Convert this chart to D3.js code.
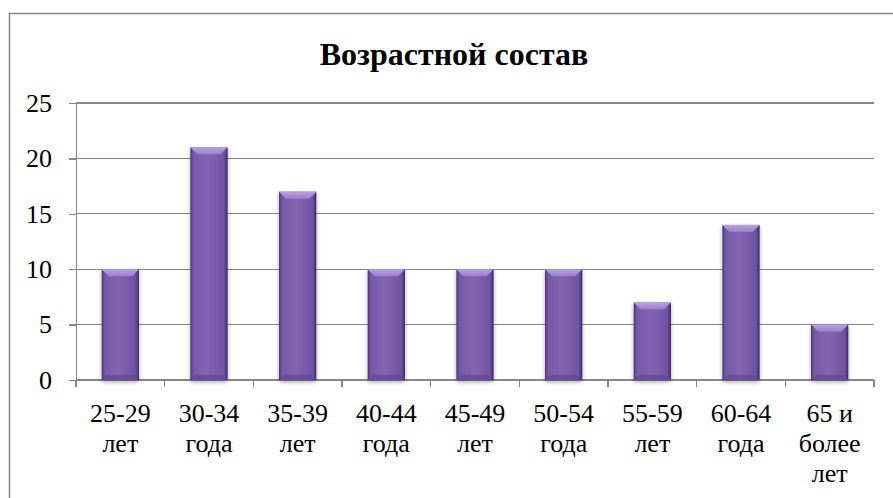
<!DOCTYPE html>
<head>
  <meta charset="utf-8">
  <script src="https://d3js.org/d3.v7.min.js"></script>
  <style>
    body { margin: 0; background: #fff; }
    .axis path, .axis line { stroke: #868686; stroke-width: 1.3; shape-rendering: crispEdges; }
    .grid line { stroke: #868686; stroke-width: 1.3; shape-rendering: crispEdges; }
  </style>
</head>
<body>
<script>

var categories = ["25-29 лет", "30-34 года", "35-39 лет", "40-44 года", "45-49 лет",
                  "50-54 года", "55-59 лет", "60-64 года", "65 и более лет"];
var labelLines = [["25-29", "лет"], ["30-34", "года"], ["35-39", "лет"], ["40-44", "года"],
                  ["45-49", "лет"], ["50-54", "года"], ["55-59", "лет"], ["60-64", "года"],
                  ["65 и", "более", "лет"]];
var values = [10, 21, 17, 10, 10, 10, 7, 14, 5];
var yTicks = [0, 5, 10, 15, 20, 25];
var title = "Возрастной состав";

var FONT = "'Liberation Serif'";
var W = 893, H = 498;
var margin = {top: 103, right: 19, bottom: 118, left: 76},
    width = W - margin.left - margin.right,
    height = H - margin.top - margin.bottom;

var svg = d3.select("body").append("svg")
    .attr("width", W)
    .attr("height", H);

// chart frame
svg.append("rect")
    .attr("x", 9.5).attr("y", 13.5)
    .attr("width", W + 10).attr("height", H + 10)
    .attr("fill", "none")
    .attr("stroke", "#868686")
    .attr("stroke-width", 1.5);

svg.append("text")
    .attr("x", 454)
    .attr("y", 65)
    .attr("text-anchor", "middle")
    .style("font-family", FONT)
    .style("font-size", "32px")
    .style("font-weight", "bold")
    .style("fill", "#000")
    .text(title);

var defs = svg.append("defs");
var grad = defs.append("linearGradient").attr("id", "barGrad")
    .attr("x1", "0").attr("x2", "1").attr("y1", "0").attr("y2", "0");
grad.append("stop").attr("offset", "0%").attr("stop-color", "#4a3170");
grad.append("stop").attr("offset", "8%").attr("stop-color", "#7658a8");
grad.append("stop").attr("offset", "45%").attr("stop-color", "#8264b3");
grad.append("stop").attr("offset", "90%").attr("stop-color", "#7153a3");
grad.append("stop").attr("offset", "100%").attr("stop-color", "#3d2a5e");

var topGrad = defs.append("linearGradient").attr("id", "topGrad")
    .attr("x1", "0").attr("x2", "0").attr("y1", "0").attr("y2", "1");
topGrad.append("stop").attr("offset", "0%").attr("stop-color", "#b7a2e2");
topGrad.append("stop").attr("offset", "100%").attr("stop-color", "#9b7fd0");

var shadow = defs.append("filter").attr("id", "shadow")
    .attr("x", "-30%").attr("y", "-10%").attr("width", "160%").attr("height", "130%");
shadow.append("feGaussianBlur").attr("in", "SourceAlpha").attr("stdDeviation", 2.2);
shadow.append("feOffset").attr("dx", 0).attr("dy", 2).attr("result", "b");
shadow.append("feComponentTransfer").append("feFuncA").attr("type", "linear").attr("slope", 0.35);
var merge = shadow.append("feMerge");
merge.append("feMergeNode");
merge.append("feMergeNode").attr("in", "SourceGraphic");

var g = svg.append("g")
    .attr("transform", "translate(" + margin.left + "," + margin.top + ")");

var x = d3.scaleBand()
    .domain(categories)
    .range([0, width])
    .paddingInner(0.58)
    .paddingOuter(0.29);

var y = d3.scaleLinear()
    .domain([0, 25])
    .range([height, 0]);

// gridlines
g.append("g")
    .attr("class", "grid")
    .selectAll("line")
    .data(yTicks.slice(1))
    .enter().append("line")
    .attr("x1", 0).attr("x2", width)
    .attr("y1", function(d) { return y(d); })
    .attr("y2", function(d) { return y(d); });

// y axis
var yAxis = g.append("g")
    .attr("class", "axis")
    .call(d3.axisLeft(y).tickValues(yTicks).tickSize(7).tickPadding(17));
yAxis.attr("font-family", null).attr("font-size", null);
yAxis.selectAll("text")
    .style("font-size", "26px")
    .style("font-family", FONT)
    .style("fill", "#000");

// x axis with ticks at category boundaries
var step = x.step();
var xAxisG = g.append("g")
    .attr("class", "axis")
    .attr("transform", "translate(0," + height + ")");
xAxisG.append("line")
    .attr("x1", 0).attr("x2", width).attr("y1", 0).attr("y2", 0);
xAxisG.selectAll(".tk")
    .data(d3.range(categories.length + 1))
    .enter().append("line")
    .attr("class", "tk")
    .attr("x1", function(i) { return i * step; })
    .attr("x2", function(i) { return i * step; })
    .attr("y1", 0).attr("y2", 7);

var labels = xAxisG.selectAll(".lbl")
    .data(categories)
    .enter().append("text")
    .attr("class", "lbl")
    .attr("text-anchor", "middle")
    .style("font-family", FONT)
    .style("font-size", "26px")
    .style("fill", "#000")
    .attr("transform", function(d) { return "translate(" + (x(d) + x.bandwidth() / 2) + ",42)"; });
labels.each(function(d, i) {
  var t = d3.select(this);
  labelLines[i].forEach(function(line, j) {
    t.append("tspan").attr("x", 0).attr("y", j * 30).text(line);
  });
});

// bars
var bars = g.selectAll(".bar")
    .data(values)
    .enter().append("g")
    .attr("class", "bar")
    .attr("filter", "url(#shadow)");

bars.append("rect")
    .attr("x", function(d, i) { return x(categories[i]); })
    .attr("y", function(d) { return y(d); })
    .attr("width", x.bandwidth())
    .attr("height", function(d) { return height - y(d); })
    .attr("fill", "url(#barGrad)");

// top bevel
bars.append("path")
    .attr("fill", "url(#topGrad)")
    .attr("d", function(d, i) {
      var x0 = x(categories[i]), x1 = x0 + x.bandwidth(), y0 = y(d), b = 7;
      return "M" + x0 + "," + y0 + "L" + x1 + "," + y0 +
             "L" + (x1 - b) + "," + (y0 + b) + "L" + (x0 + b) + "," + (y0 + b) + "Z";
    });

// bottom bevel
bars.append("path")
    .attr("fill", "#5e4389")
    .attr("opacity", 0.55)
    .attr("d", function(d, i) {
      var x0 = x(categories[i]), x1 = x0 + x.bandwidth(), y0 = height, b = 5;
      return "M" + x0 + "," + y0 + "L" + x1 + "," + y0 +
             "L" + (x1 - b) + "," + (y0 - b) + "L" + (x0 + b) + "," + (y0 - b) + "Z";
    });

</script>
</body>
